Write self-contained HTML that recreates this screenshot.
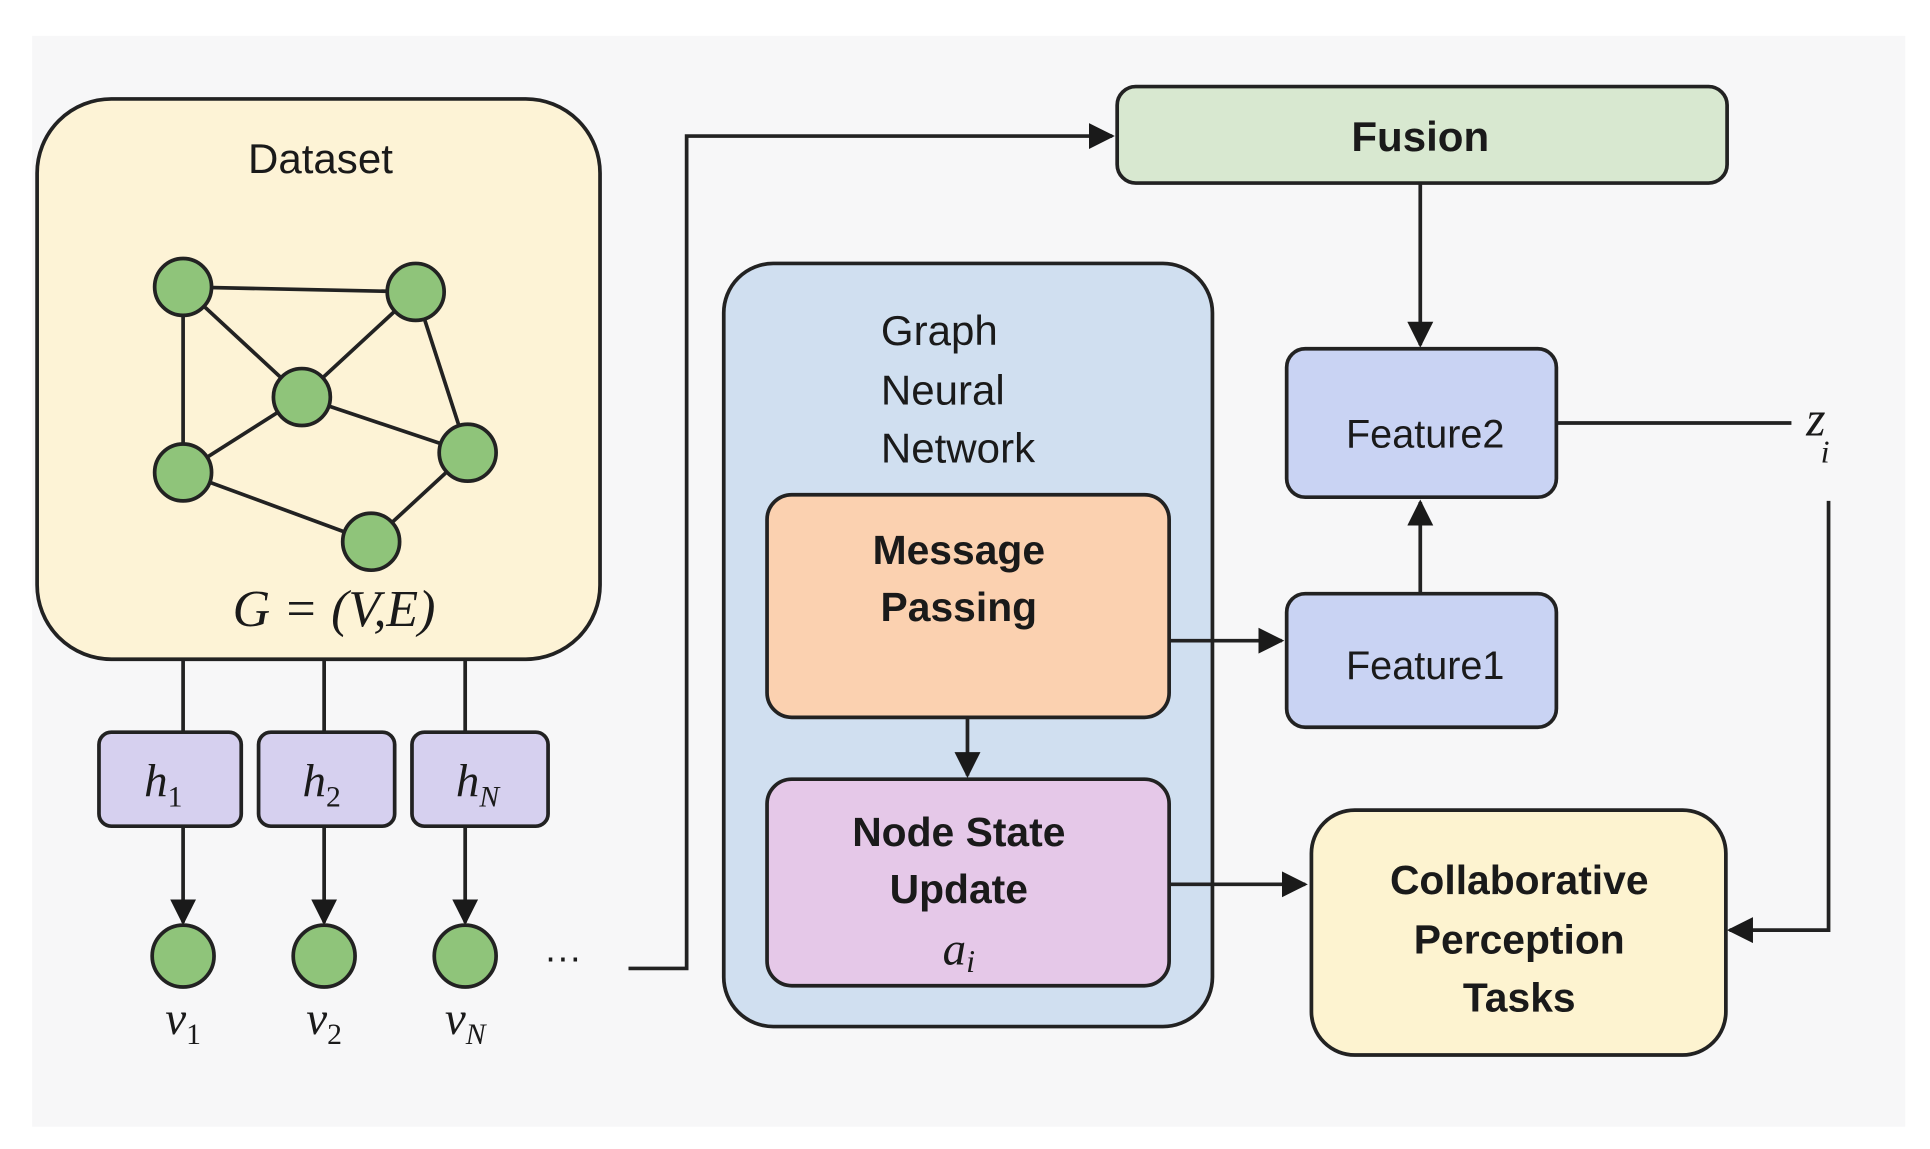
<!DOCTYPE html>
<html><head><meta charset="utf-8"><style>
html,body{margin:0;padding:0;background:#fff;}
svg{display:block;}
text{font-family:"Liberation Sans",sans-serif;fill:#1a1a1a;}
.m{font-family:"Liberation Serif",serif;font-style:italic;}
</style></head><body>
<svg width="1930" height="1149" viewBox="0 0 1560 929" preserveAspectRatio="none" xmlns="http://www.w3.org/2000/svg">
<defs><marker id="a" viewBox="0 0 10 10" refX="9" refY="5" markerWidth="7" markerHeight="7" orient="auto-start-reverse"><path d="M0,0 L10,5 L0,10 z" fill="#1a1a1a"/></marker></defs>
<rect x="0" y="0" width="1560" height="929" fill="#fff"/>
<rect x="26" y="29" width="1514" height="882" fill="#f7f7f8"/>
<g stroke="#222" stroke-width="3">
<rect x="30" y="80" width="455" height="453" rx="60" fill="#fdf3d6"/>
<line x1="148" y1="232" x2="336" y2="236"/><line x1="148" y1="232" x2="244" y2="321"/><line x1="148" y1="232" x2="148" y2="382"/>
<line x1="336" y1="236" x2="244" y2="321"/><line x1="336" y1="236" x2="378" y2="366"/>
<line x1="244" y1="321" x2="148" y2="382"/><line x1="244" y1="321" x2="378" y2="366"/>
<line x1="148" y1="382" x2="300" y2="438"/><line x1="378" y1="366" x2="300" y2="438"/>
<g fill="#8fc47a"><circle cx="148" cy="232" r="23"/><circle cx="336" cy="236" r="23"/><circle cx="244" cy="321" r="23"/><circle cx="148" cy="382" r="23"/><circle cx="378" cy="366" r="23"/><circle cx="300" cy="438" r="23"/></g>
<line x1="148" y1="533" x2="148" y2="592"/><line x1="262" y1="533" x2="262" y2="592"/><line x1="376" y1="533" x2="376" y2="592"/>
<g fill="#d6d0ef"><rect x="80" y="592" width="115" height="76" rx="10"/><rect x="209" y="592" width="110" height="76" rx="10"/><rect x="333" y="592" width="110" height="76" rx="10"/></g>
<line x1="148" y1="668" x2="148" y2="746" marker-end="url(#a)"/><line x1="262" y1="668" x2="262" y2="746" marker-end="url(#a)"/><line x1="376" y1="668" x2="376" y2="746" marker-end="url(#a)"/>
<g fill="#8fc47a"><circle cx="148" cy="773" r="25"/><circle cx="262" cy="773" r="25"/><circle cx="376" cy="773" r="25"/></g>
<polyline points="508,783 555,783 555,110 899,110" fill="none" marker-end="url(#a)"/>
<rect x="903" y="70" width="493" height="78" rx="15" fill="#d8e8d0"/>
<line x1="1148" y1="148" x2="1148" y2="279" marker-end="url(#a)"/>
<rect x="585" y="213" width="395" height="617" rx="40" fill="#d0dff0"/>
<rect x="620" y="400" width="325" height="180" rx="20" fill="#fbd1b0"/>
<line x1="782" y1="580" x2="782" y2="627" marker-end="url(#a)"/>
<rect x="620" y="630" width="325" height="167" rx="20" fill="#e5c8e8"/>
<rect x="1040" y="282" width="218" height="120" rx="15" fill="#c9d3f3"/>
<rect x="1040" y="480" width="218" height="108" rx="15" fill="#c9d3f3"/>
<line x1="945" y1="518" x2="1036" y2="518" marker-end="url(#a)"/>
<line x1="1148" y1="480" x2="1148" y2="406" marker-end="url(#a)"/>
<line x1="1258" y1="342" x2="1448" y2="342"/>
<polyline points="1478,405 1478,752 1398,752" fill="none" marker-end="url(#a)"/>
<line x1="945" y1="715" x2="1055" y2="715" marker-end="url(#a)"/>
<rect x="1060" y="655" width="335" height="198" rx="35" fill="#fdf3d0"/>
</g>
<text x="259" y="140" font-size="34" text-anchor="middle">Dataset</text>
<text x="270" y="506" font-size="42" text-anchor="middle" class="m" fill="#333">G = (V,E)</text>
<text x="132" y="644" font-size="38" text-anchor="middle" class="m">h<tspan font-size="24" dy="8" font-style="normal">1</tspan></text>
<text x="260" y="644" font-size="38" text-anchor="middle" class="m">h<tspan font-size="24" dy="8" font-style="normal">2</tspan></text>
<text x="386" y="644" font-size="38" text-anchor="middle" class="m">h<tspan font-size="24" dy="8">N</tspan></text>
<text x="148" y="836" font-size="38" text-anchor="middle" class="m">v<tspan font-size="24" dy="8" font-style="normal">1</tspan></text>
<text x="262" y="836" font-size="38" text-anchor="middle" class="m">v<tspan font-size="24" dy="8" font-style="normal">2</tspan></text>
<text x="376" y="836" font-size="38" text-anchor="middle" class="m">v<tspan font-size="24" dy="8">N</tspan></text>
<text x="455" y="784" font-size="30" text-anchor="middle">···</text>
<text x="1148" y="122" font-size="34" font-weight="bold" text-anchor="middle">Fusion</text>
<text x="712" y="279" font-size="34">Graph</text>
<text x="712" y="327" font-size="34">Neural</text>
<text x="712" y="374" font-size="34">Network</text>
<text x="775" y="456" font-size="33" font-weight="bold" text-anchor="middle">Message</text>
<text x="775" y="502" font-size="33" font-weight="bold" text-anchor="middle">Passing</text>
<text x="775" y="684" font-size="33" font-weight="bold" text-anchor="middle">Node State</text>
<text x="775" y="730" font-size="33" font-weight="bold" text-anchor="middle">Update</text>
<text x="775" y="780" font-size="38" text-anchor="middle" class="m">a<tspan font-size="26" dy="6">i</tspan></text>
<text x="1152" y="362" font-size="32" text-anchor="middle">Feature2</text>
<text x="1152" y="549" font-size="32" text-anchor="middle">Feature1</text>
<text x="1460" y="352" font-size="40" class="m">z<tspan font-size="26" dy="22" dx="-4">i</tspan></text>
<text x="1228" y="723" font-size="33" font-weight="bold" text-anchor="middle">Collaborative</text>
<text x="1228" y="771" font-size="33" font-weight="bold" text-anchor="middle">Perception</text>
<text x="1228" y="818" font-size="33" font-weight="bold" text-anchor="middle">Tasks</text>
</svg>
</body></html>
